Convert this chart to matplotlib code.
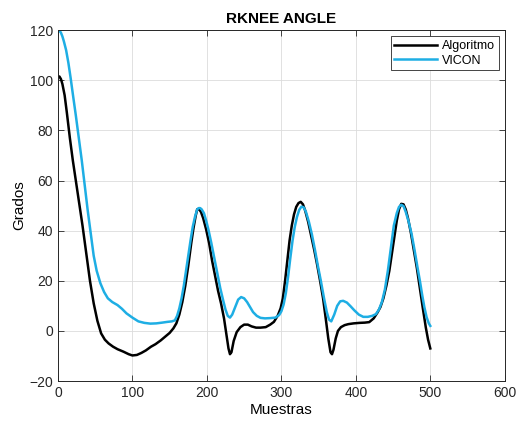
import matplotlib.pyplot as plt

# ==== DATA ====
algo_x = [0, 2, 4, 6, 9, 12, 16, 20, 24, 28, 33, 38, 43, 48, 53, 58, 63, 68, 74,
          80, 88, 95, 100, 106, 112, 118, 125, 131, 138, 144, 150, 155, 159, 163,
          167, 171, 175, 179, 182, 185, 187, 189, 192, 195, 199, 203, 207, 211,
          215, 219, 223, 226, 229, 231, 233, 236, 240, 245, 250, 255, 260, 266,
          272, 279, 285, 290, 295, 299, 302, 305, 308, 311, 314, 317, 320, 323,
          326, 329, 332, 336, 340, 344, 348, 352, 356, 360, 363, 366, 368, 370,
          373, 376, 380, 385, 390, 397, 405, 412, 418, 424, 429, 433, 437, 441,
          445, 449, 452, 455, 458, 461, 464, 467, 470, 474, 478, 482, 486, 490,
          494, 497, 500]
algo_y = [101.5, 101.5, 100.5, 98.5, 94, 87, 77, 68, 60, 52, 42, 31, 20, 11, 4, -1, -3.5, -5, -6.3,
          -7.3, -8.3, -9.3, -9.8, -9.6, -8.8, -7.8, -6.3, -5.3, -3.8, -2.3, -0.8, 1, 3, 6.5,
          11.5, 18, 26, 35, 41, 46, 48.5, 48.7, 47.5, 45, 40.5, 35, 28, 22,
          16, 11, 5, -1, -7, -9.3, -8.5, -4, -0.5, 1.5, 2.5, 2.5, 1.8, 1.3,
          1.3, 1.5, 2.5, 3.6, 6, 9, 13, 20, 28, 36, 42, 46.5, 49.5, 51,
          51.5, 50.5, 48, 43.5, 38, 32.5, 26.5, 20, 13, 4, -3, -8.5, -9.3, -7.5,
          -3, 0, 1.5, 2.3, 2.7, 3, 3.2, 3.3, 3.5, 5, 7.3, 9.5, 13, 18,
          24, 32, 38, 44, 48.5, 50.7, 50.5, 48.5, 45, 39, 32, 25, 17, 9,
          1.3, -3.5, -7]

vicon_x = [0, 2, 4, 6, 8, 11, 14, 17, 20, 24, 28, 32, 36, 40, 44, 48, 52, 57, 62,
           67, 73, 80, 86, 92, 100, 108, 116, 124, 132, 140, 147, 153, 157, 160,
           163, 166, 169, 172, 175, 178, 181, 184, 187, 189, 191, 193, 196, 199,
           202, 206, 210, 214, 218, 222, 225, 228, 231, 234, 238, 242, 246, 250,
           254, 258, 262, 267, 272, 278, 285, 292, 297, 300, 303, 306, 309, 312,
           315, 318, 321, 324, 327, 330, 333, 337, 341, 345, 349, 353, 357, 361,
           364, 367, 371, 375, 379, 383, 388, 393, 398, 404, 410, 416, 422, 427,
           431, 435, 439, 443, 447, 451, 455, 458, 461, 464, 467, 471, 475, 479,
           483, 486, 489, 492, 495, 498, 500]
vicon_y = [120, 119.8, 119, 117.5, 115.5, 112, 107, 101, 94.5, 86, 77, 68, 58, 48, 39, 30, 24, 19, 15.5,
           13, 11.5, 10.3, 8.8, 7, 5.3, 3.8, 3.2, 2.9, 3, 3.3, 3.6, 3.8, 4.2, 6,
           9, 13, 18, 24, 30, 36, 41.5, 45.5, 48.5, 49, 49, 48.5, 47, 44,
           40.5, 35, 29, 23, 17, 12, 8.5, 6, 5.3, 6.5, 9.5, 12.5, 13.5, 13,
           11.5, 9.5, 7.5, 6, 5.2, 5, 5.1, 5.3, 6.3, 7.8, 10.5, 15, 21.5, 29,
           36, 41.5, 45.5, 48.3, 49.6, 49.3, 47.5, 43.5, 38.5, 32.5, 26, 20, 13.5, 7.5,
           4.5, 3.8, 6.5, 10, 11.8, 12, 11.3, 9.8, 8.2, 6.5, 5.6, 5.6, 6, 6.7,
           8.5, 11.5, 16.5, 24, 33, 42, 47, 49.5, 50.3, 49.8, 47.5, 43.5, 38.5, 32,
           25, 20, 14.5, 9.5, 5.5, 3, 2]

plt.rcParams["font.family"] = ["Liberation Sans", "DejaVu Sans"]

fig = plt.figure(figsize=(5.22, 4.25), dpi=100)
ax = fig.add_axes([0.111, 0.1035, 0.856, 0.8255])

ax.plot(algo_x, algo_y, color="black", linewidth=1.8, label="Algoritmo")
ax.plot(vicon_x, vicon_y, color="#1EAEE4", linewidth=1.8, label="VICON")

ax.set_xlim(0, 600)
ax.set_ylim(-20, 120)
ax.set_xticks(range(0, 601, 100))
ax.set_yticks(range(-20, 121, 20))
ax.tick_params(direction="in", top=True, right=True, labelsize=10, length=4,
               width=0.6, colors="#262626")
for s in ax.spines.values():
    s.set_linewidth(0.7)
    s.set_color("#262626")
ax.grid(True, color="#DCDCDC", linewidth=0.6)

ax.set_title("RKNEE ANGLE", fontsize=11, fontweight="bold", pad=5)
ax.set_xlabel("Muestras", fontsize=11, labelpad=2)
ax.set_ylabel("Grados", fontsize=11, labelpad=2)

leg = ax.legend(loc="upper right", fontsize=9, fancybox=False, framealpha=1,
                edgecolor="#262626", handlelength=3.4, handletextpad=0.4,
                borderpad=0.3, labelspacing=0.2, borderaxespad=0.5)
leg.get_frame().set_linewidth(0.6)

fig.savefig("out.png", dpi=100)
